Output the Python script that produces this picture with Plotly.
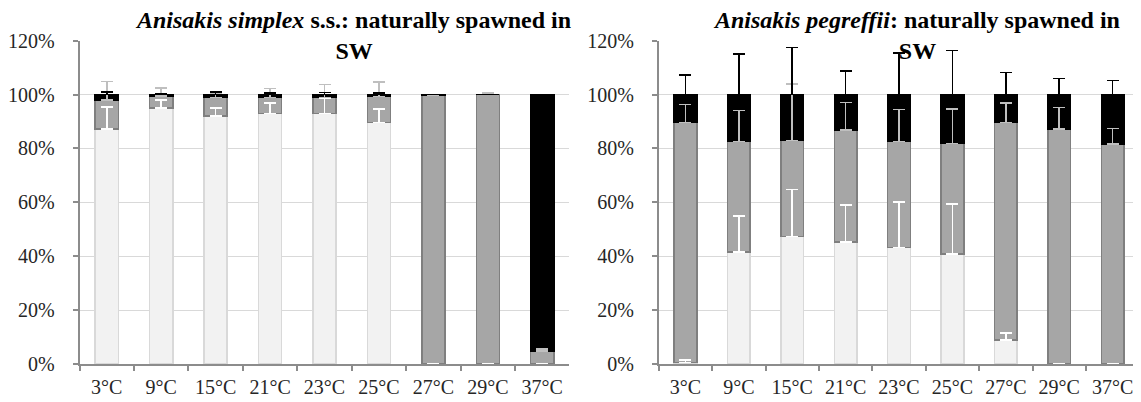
import plotly.graph_objects as go

categories = ["3°C", "9°C", "15°C", "21°C", "23°C", "25°C", "27°C", "29°C", "37°C"]

# Anisakis simplex s.s.
simplex_light = [87.3, 95.0, 92.0, 93.0, 92.9, 89.7, 0.0, 0.0, 0.0]
simplex_gray = [10.7, 4.5, 7.0, 6.0, 6.1, 9.6, 99.7, 100.0, 4.8]
simplex_black = [2.0, 0.5, 1.0, 1.0, 1.0, 0.7, 0.3, 0.0, 95.2]
simplex_light_err = [8.0, 3.0, 3.0, 3.8, 5.8, 5.0, 0.0, 0.0, 0.0]
simplex_gray_err = [6.9, 3.0, 1.5, 3.3, 4.8, 5.3, 0.0, 0.5, 0.8]
simplex_black_err = [1.0, 0.4, 1.0, 0.6, 0.8, 0.5, 0.0, 0.0, 0.0]

# Anisakis pegreffii
pegreffii_light = [0.6, 41.6, 47.4, 45.2, 43.3, 40.9, 8.9, 0.0, 0.0]
pegreffii_gray = [89.0, 40.9, 35.5, 41.6, 39.2, 41.0, 80.7, 87.2, 81.6]
pegreffii_black = [10.4, 17.5, 17.1, 13.2, 17.5, 18.1, 10.4, 12.8, 18.4]
pegreffii_light_err = [0.9, 13.3, 17.4, 13.9, 16.8, 18.4, 2.7, 0.0, 0.0]
pegreffii_gray_err = [6.8, 11.5, 21.0, 10.2, 12.0, 12.7, 7.2, 8.0, 5.8]
pegreffii_black_err = [7.3, 15.0, 17.5, 8.8, 15.5, 16.4, 8.1, 5.9, 5.3]

y_ticks = [0, 20, 40, 60, 80, 100, 120]
y_tick_labels = ["0%", "20%", "40%", "60%", "80%", "100%", "120%"]

titles = [
    "<b><i>Anisakis simplex</i> s.s.: naturally spawned in<br>SW</b>",
    "<b><i>Anisakis pegreffii</i>: naturally spawned in<br>SW</b>",
]

fills = ["#f2f2f2", "#a6a6a6", "#000000"]
outlines = ["#d9d9d9", "#7f7f7f", "#000000"]
err_colors = ["#ffffff", "#bfbfbf", "#000000"]

FONT = "Liberation Serif"

fig = go.Figure()

panels = [
    (simplex_light, simplex_gray, simplex_black,
     simplex_light_err, simplex_gray_err, simplex_black_err, "x", "y", "x3", "y3"),
    (pegreffii_light, pegreffii_gray, pegreffii_black,
     pegreffii_light_err, pegreffii_gray_err, pegreffii_black_err, "x2", "y2", "x4", "y4"),
]

for (l, g, b, le, ge, be, xa, ya, xo, yo) in panels:
    for vals, fc, lc in zip([l, g, b], fills, outlines):
        fig.add_trace(go.Bar(
            x=categories, y=vals, xaxis=xa, yaxis=ya,
            marker=dict(color=fc, line=dict(color=lc, width=1.5)),
            showlegend=False, hoverinfo="skip",
        ))
    # transparent copies on an overlay axis carrying the (plus-only) error bars
    for vals, errs, ec in zip([l, g, b], [le, ge, be], err_colors):
        fig.add_trace(go.Bar(
            x=categories, y=vals, xaxis=xo, yaxis=yo,
            marker=dict(color="rgba(0,0,0,0)", line=dict(width=0)),
            error_y=dict(type="data", symmetric=False, array=errs,
                         arrayminus=[0] * len(errs), color=ec,
                         thickness=1.5, width=6),
            showlegend=False, hoverinfo="skip",
        ))

ydom = [0.092, 0.943]
xdom1 = [0.0627, 0.4921]
xdom2 = [0.5703, 0.9915]

axis_common = dict(showline=True, linecolor="#8c8c8c", linewidth=1.5,
                   ticks="outside", tickcolor="#8c8c8c", ticklen=5, tickwidth=1.5,
                   tickfont=dict(family=FONT, size=20, color="#262626"))

xcommon = dict(axis_common, type="category", tickson="boundaries", showgrid=False,
               range=[-0.5, 8.5], ticklabelstandoff=4)
ycommon = dict(axis_common, range=[0, 120], tickmode="array", tickvals=y_ticks,
               ticktext=y_tick_labels,
               showgrid=True, gridcolor="#d9d9d9", gridwidth=1, zeroline=False,
               ticklabelstandoff=14)

fig.update_layout(
    width=1141, height=402,
    margin=dict(l=0, r=0, t=0, b=0),
    paper_bgcolor="white", plot_bgcolor="white",
    barmode="stack", bargap=0.575,
    xaxis=dict(xcommon, domain=xdom1, anchor="y"),
    yaxis=dict(ycommon, domain=ydom, anchor="x"),
    xaxis2=dict(xcommon, domain=xdom2, anchor="y2"),
    yaxis2=dict(ycommon, domain=ydom, anchor="x2"),
    xaxis3=dict(type="category", overlaying="x", anchor="y3", range=[-0.5, 8.5], visible=False),
    yaxis3=dict(overlaying="y", anchor="x3", range=[0, 120], visible=False),
    xaxis4=dict(type="category", overlaying="x2", anchor="y4", range=[-0.5, 8.5], visible=False),
    yaxis4=dict(overlaying="y2", anchor="x4", range=[0, 120], visible=False),
    showlegend=False,
)

for txt, xc in zip(titles, [345 / 1141, 908 / 1141]):
    fig.add_annotation(text=txt, xref="paper", yref="paper", x=xc, y=1 - 17 / 402,
                       xanchor="center", yanchor="middle", showarrow=False,
                       font=dict(family=FONT, size=24, color="#000000"))

fig.write_html("out.html")
